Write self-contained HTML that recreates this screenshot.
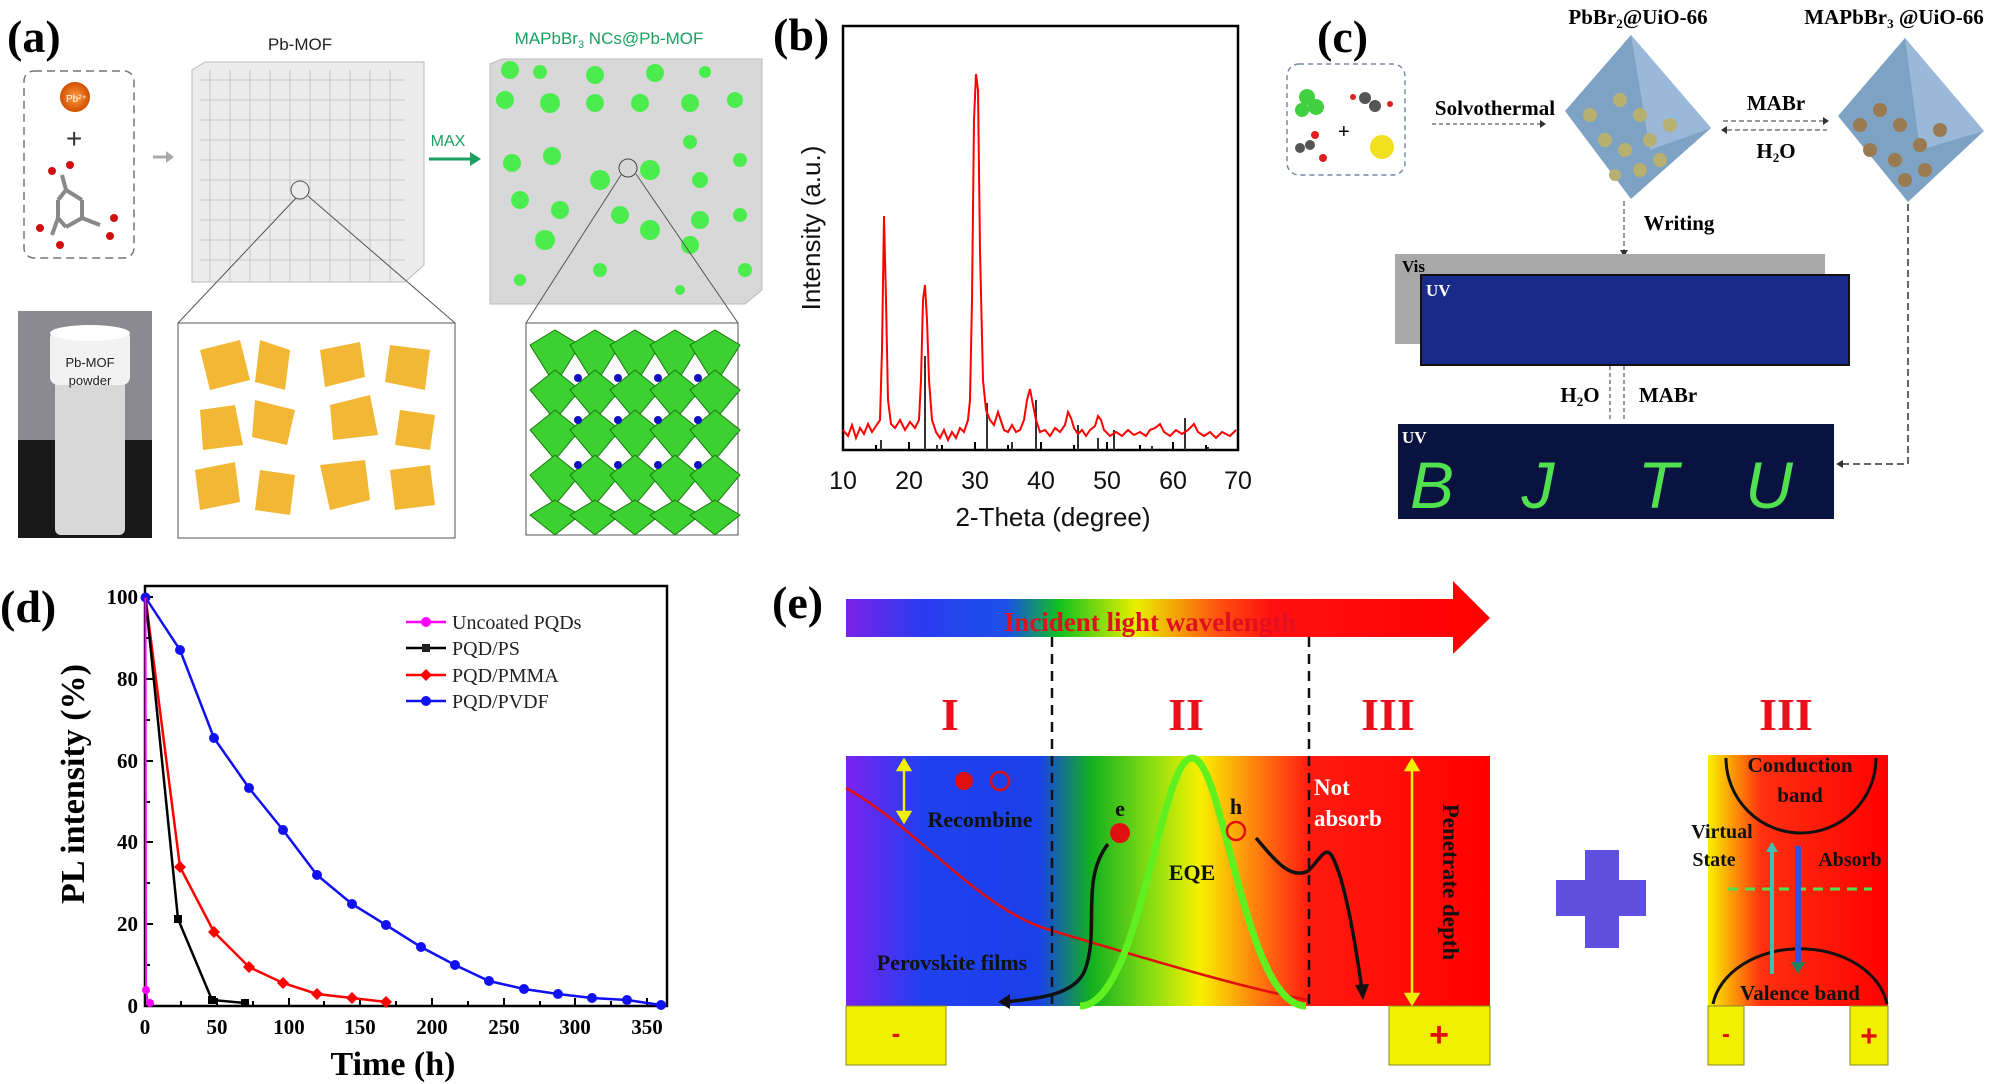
<!DOCTYPE html>
<html><head><meta charset="utf-8"><style>html,body{margin:0;padding:0;background:#fff}svg{display:block}</style></head><body>
<svg width="2000" height="1084" viewBox="0 0 2000 1084" xmlns="http://www.w3.org/2000/svg">
<defs>
<linearGradient id="arr" x1="846" x2="1490" y1="0" y2="0" gradientUnits="userSpaceOnUse">
<stop offset="0" stop-color="#7a22e6"/><stop offset="0.12" stop-color="#2a3cf0"/><stop offset="0.25" stop-color="#1a50e8"/><stop offset="0.33" stop-color="#10c020"/><stop offset="0.45" stop-color="#e8f000"/><stop offset="0.58" stop-color="#ff5010"/><stop offset="0.66" stop-color="#ff1010"/><stop offset="1" stop-color="#ff0000"/></linearGradient>
<linearGradient id="box" x1="846" x2="1490" y1="0" y2="0" gradientUnits="userSpaceOnUse">
<stop offset="0" stop-color="#7a22f0"/><stop offset="0.12" stop-color="#2040f0"/><stop offset="0.3" stop-color="#1a40e8"/><stop offset="0.38" stop-color="#10b020"/><stop offset="0.48" stop-color="#90e010"/><stop offset="0.55" stop-color="#f8f000"/><stop offset="0.65" stop-color="#ff7010"/><stop offset="0.72" stop-color="#ff1a10"/><stop offset="1" stop-color="#ff0000"/></linearGradient>
<linearGradient id="rbox" x1="1708" x2="1888" y1="0" y2="0" gradientUnits="userSpaceOnUse">
<stop offset="0" stop-color="#f8f000"/><stop offset="0.3" stop-color="#ff3010"/><stop offset="1" stop-color="#ff0000"/></linearGradient>
<radialGradient id="pb"><stop offset="0" stop-color="#ff9a40"/><stop offset="1" stop-color="#d05000"/></radialGradient>
</defs>

<!-- (a) -->
<text x="7" y="52" font-family="Liberation Serif" font-weight="bold" font-size="46">(a)</text>
<rect x="24" y="71" width="110" height="187" rx="10" fill="none" stroke="#777" stroke-width="1.5" stroke-dasharray="8,5"/>
<circle cx="75" cy="97" r="15" fill="url(#pb)"/><text x="66" y="102" font-family="Liberation Sans" font-size="10" fill="#fff">Pb²⁺</text>
<text x="66" y="148" font-family="Liberation Sans" font-size="28" fill="#333">+</text>
<g stroke="#888" stroke-width="4"><line x1="66" y1="190" x2="82" y2="200"/><line x1="82" y1="200" x2="82" y2="218"/><line x1="82" y1="218" x2="66" y2="227"/><line x1="66" y1="227" x2="58" y2="218"/><line x1="58" y1="218" x2="58" y2="200"/><line x1="58" y1="200" x2="66" y2="190"/><line x1="66" y1="190" x2="62" y2="175"/><line x1="82" y1="218" x2="100" y2="225"/><line x1="58" y1="218" x2="52" y2="235"/></g>
<g fill="#d01010"><circle cx="52" cy="171" r="4"/><circle cx="70" cy="165" r="4"/><circle cx="114" cy="218" r="4"/><circle cx="110" cy="236" r="4"/><circle cx="40" cy="228" r="4"/><circle cx="60" cy="245" r="4"/></g>
<path d="M153 157h16" stroke="#aaa" stroke-width="3"/><path d="M166 151l8 6-8 6z" fill="#aaa"/>
<text x="300" y="50" text-anchor="middle" font-family="Liberation Sans" font-size="17" fill="#222">Pb-MOF</text>
<g fill="#ececec" stroke="#bbb" stroke-width="1"><path d="M192 70L205 62L424 62L424 265L405 282L192 282Z"/></g>
<g stroke="#c4c4c4" stroke-width="1" opacity="0.9">
<path d="M200 80H405M200 100H405M200 120H405M200 140H405M200 160H405M200 180H405M200 200H405M200 220H405M200 240H405M200 260H405M210 70V282M230 70V282M250 70V282M270 70V282M290 70V282M310 70V282M330 70V282M350 70V282M370 70V282M390 70V282"/></g>
<circle cx="300" cy="190" r="9" fill="none" stroke="#555"/>
<path d="M296 198L178 323M308 196L455 323" stroke="#555" stroke-width="1"/>
<text x="609" y="44" text-anchor="middle" font-family="Liberation Sans" font-size="17" fill="#1aa060">MAPbBr<tspan font-size="11" dy="4">3</tspan><tspan dy="-4"> NCs@Pb-MOF</tspan></text>
<text x="448" y="146" text-anchor="middle" font-family="Liberation Sans" font-size="16" fill="#1aa060">MAX</text>
<path d="M429 159h44" stroke="#1aa060" stroke-width="3"/><path d="M470 152l11 7-11 7z" fill="#1aa060"/>
<path d="M490 64L502 59L762 59L762 290L745 304L490 304Z" fill="#d8d8d8" stroke="#bbb"/>
<g fill="#3cf040" opacity="0.9"><circle cx="510" cy="70" r="9"/><circle cx="540" cy="72" r="7"/><circle cx="595" cy="75" r="9"/><circle cx="655" cy="73" r="9"/><circle cx="705" cy="72" r="6"/><circle cx="505" cy="100" r="9"/><circle cx="550" cy="103" r="10"/><circle cx="595" cy="103" r="9"/><circle cx="640" cy="103" r="9"/><circle cx="690" cy="103" r="9"/><circle cx="735" cy="100" r="8"/><circle cx="512" cy="163" r="9"/><circle cx="552" cy="156" r="9"/><circle cx="600" cy="180" r="10"/><circle cx="650" cy="170" r="10"/><circle cx="690" cy="142" r="7"/><circle cx="700" cy="180" r="8"/><circle cx="740" cy="160" r="7"/><circle cx="520" cy="200" r="9"/><circle cx="560" cy="210" r="9"/><circle cx="620" cy="215" r="9"/><circle cx="700" cy="220" r="9"/><circle cx="740" cy="215" r="7"/><circle cx="545" cy="240" r="10"/><circle cx="650" cy="230" r="10"/><circle cx="690" cy="245" r="9"/><circle cx="600" cy="270" r="7"/><circle cx="745" cy="270" r="7"/><circle cx="680" cy="290" r="5"/><circle cx="520" cy="280" r="6"/></g>
<circle cx="628" cy="168" r="9" fill="none" stroke="#444"/>
<path d="M621 175L526 323M636 174L738 323" stroke="#555"/>
<rect x="18" y="311" width="134" height="227" fill="#8a8a90"/>
<rect x="18" y="440" width="134" height="98" fill="#181818"/>
<rect x="55" y="375" width="70" height="160" rx="6" fill="#d8d8d8"/>
<rect x="50" y="330" width="80" height="55" rx="8" fill="#f2f2f2"/>
<ellipse cx="90" cy="333" rx="40" ry="8" fill="#fff"/>
<text x="90" y="367" text-anchor="middle" font-family="Liberation Sans" font-size="13" fill="#222">Pb-MOF</text>
<text x="90" y="385" text-anchor="middle" font-family="Liberation Sans" font-size="13" fill="#222">powder</text>
<rect x="178" y="323" width="277" height="215" fill="#fff" stroke="#555"/>
<g fill="#f0b020" opacity="0.9"><path d="M200 350l40 -10 10 40 -40 10z"/><path d="M260 340l30 10 -5 40 -30-8z"/><path d="M320 350l40 -8 5 35 -40 10z"/><path d="M390 345l40 5 -5 40 -40 -8z"/><path d="M200 410l35 -5 8 40 -40 5z"/><path d="M255 400l40 10 -8 35 -35-8z"/><path d="M330 405l40 -10 8 40 -45 5z"/><path d="M400 410l35 5 -5 35 -35-5z"/><path d="M195 470l40 -8 5 40 -40 8z"/><path d="M260 470l35 5 -5 40 -35 -5z"/><path d="M320 465l45 -5 5 40 -40 10z"/><path d="M390 470l40 -5 5 40 -40 5z"/></g>
<rect x="526" y="323" width="212" height="212" fill="#fff" stroke="#555"/>
<g fill="#3cd030" stroke="#1a7a10" stroke-width="1">
<path d="M530 345l25-15 25 15-25 40z"/><path d="M570 345l25-15 25 15-25 40z"/><path d="M610 345l25-15 25 15-25 40z"/><path d="M650 345l25-15 25 15-25 40z"/><path d="M690 345l25-15 25 15-25 40z"/>
<path d="M530 390l25-20 25 20-25 30z"/><path d="M570 390l25-20 25 20-25 30z"/><path d="M610 390l25-20 25 20-25 30z"/><path d="M650 390l25-20 25 20-25 30z"/><path d="M690 390l25-20 25 20-25 30z"/>
<path d="M530 430l25-20 25 20-25 30z"/><path d="M570 430l25-20 25 20-25 30z"/><path d="M610 430l25-20 25 20-25 30z"/><path d="M650 430l25-20 25 20-25 30z"/><path d="M690 430l25-20 25 20-25 30z"/>
<path d="M530 475l25-20 25 20-25 30z"/><path d="M570 475l25-20 25 20-25 30z"/><path d="M610 475l25-20 25 20-25 30z"/><path d="M650 475l25-20 25 20-25 30z"/><path d="M690 475l25-20 25 20-25 30z"/>
<path d="M530 515l25-15 25 15-25 20z"/><path d="M570 515l25-15 25 15-25 20z"/><path d="M610 515l25-15 25 15-25 20z"/><path d="M650 515l25-15 25 15-25 20z"/><path d="M690 515l25-15 25 15-25 20z"/></g>
<g fill="#1010c0"><circle cx="578" cy="378" r="4"/><circle cx="618" cy="378" r="4"/><circle cx="658" cy="378" r="4"/><circle cx="698" cy="378" r="4"/><circle cx="578" cy="420" r="4"/><circle cx="618" cy="420" r="4"/><circle cx="658" cy="420" r="4"/><circle cx="698" cy="420" r="4"/><circle cx="578" cy="465" r="4"/><circle cx="618" cy="465" r="4"/><circle cx="658" cy="465" r="4"/><circle cx="698" cy="465" r="4"/></g>

<!-- (b) -->
<text x="773" y="50" font-family="Liberation Serif" font-weight="bold" font-size="46">(b)</text>
<rect x="843" y="26" width="395" height="424" fill="none" stroke="#000" stroke-width="2.5"/>
<g stroke="#000" stroke-width="2"><path d="M843 450v-8M876 450v-5M909 450v-8M942 450v-5M975 450v-8M1008 450v-5M1041 450v-8M1074 450v-5M1107 450v-8M1140 450v-5M1173 450v-8M1206 450v-5"/></g>
<g font-family="Liberation Sans" font-size="25" fill="#111" text-anchor="middle"><text x="843" y="489">10</text><text x="909" y="489">20</text><text x="975" y="489">30</text><text x="1041" y="489">40</text><text x="1107" y="489">50</text><text x="1173" y="489">60</text><text x="1238" y="489">70</text></g>
<text x="1053" y="526" text-anchor="middle" font-family="Liberation Sans" font-size="26" fill="#111">2-Theta (degree)</text>
<text transform="translate(820,228) rotate(-90)" text-anchor="middle" font-family="Liberation Sans" font-size="26" fill="#111">Intensity (a.u.)</text>
<g stroke="#333" stroke-width="2"><path d="M881 450V440M925 450V356M937 450V445M987 450V403M1012 450V442M1036 450V400M1078 450V425M1098 450V438M1114 450V430M1152 450V446M1185 450V418M1208 450V447"/></g>
<path d="M843 430 L848 436 L852 425 L856 438 L860 428 L864 434 L868 424 L872 432 L876 426 L880 420 L882 350 L884 216 L886 300 L888 400 L891 424 L895 428 L900 420 L905 430 L910 422 L915 428 L919 420 L921 380 L923 300 L925 285 L927 320 L929 380 L932 420 L936 432 L940 438 L944 430 L948 440 L952 432 L956 438 L960 428 L964 432 L968 420 L970 400 L972 300 L974 120 L976 74 L978 90 L980 250 L983 380 L986 410 L990 420 L994 425 L998 412 L1000 418 L1004 430 L1008 432 L1012 425 L1016 432 L1020 430 L1024 420 L1027 400 L1030 389 L1033 405 L1036 420 L1040 432 L1045 430 L1050 436 L1055 428 L1060 432 L1065 425 L1068 412 L1071 418 L1074 428 L1078 434 L1082 430 L1086 436 L1090 430 L1095 426 L1098 416 L1101 420 L1104 430 L1110 436 L1116 432 L1122 436 L1128 430 L1134 435 L1140 432 L1146 436 L1150 430 L1155 428 L1160 424 L1164 432 L1170 436 L1176 430 L1182 434 L1188 430 L1194 424 L1198 432 L1204 436 L1210 432 L1216 438 L1222 432 L1230 436 L1236 430" fill="none" stroke="#f00" stroke-width="2"/>

<!-- (c) -->
<text x="1317" y="52" font-family="Liberation Serif" font-weight="bold" font-size="46">(c)</text>
<rect x="1287" y="64" width="118" height="111" rx="12" fill="none" stroke="#7a8aa0" stroke-width="1.5" stroke-dasharray="5,4"/>
<g fill="#40d040"><circle cx="1307" cy="97" r="8"/><circle cx="1316" cy="107" r="8"/><circle cx="1302" cy="110" r="7"/></g>
<g fill="#555"><circle cx="1365" cy="98" r="6"/><circle cx="1375" cy="106" r="6"/><circle cx="1300" cy="148" r="5"/><circle cx="1310" cy="145" r="5"/></g>
<g fill="#e02020"><circle cx="1353" cy="97" r="3"/><circle cx="1390" cy="104" r="3"/><circle cx="1315" cy="135" r="4"/><circle cx="1323" cy="158" r="4"/></g>
<text x="1338" y="138" font-family="Liberation Sans" font-size="20">+</text>
<circle cx="1382" cy="147" r="12" fill="#f0e020"/>
<text x="1495" y="115" text-anchor="middle" font-family="Liberation Serif" font-weight="bold" font-size="21">Solvothermal</text>
<path d="M1432 124h108" stroke="#333" stroke-dasharray="4,3"/><path d="M1540 120l6 4-6 4z" fill="#333"/>
<text x="1638" y="24" text-anchor="middle" font-family="Liberation Serif" font-weight="bold" font-size="21">PbBr<tspan font-size="13" dy="4">2</tspan><tspan dy="-4">@UiO-66</tspan></text>
<text x="1894" y="24" text-anchor="middle" font-family="Liberation Serif" font-weight="bold" font-size="21">MAPbBr<tspan font-size="13" dy="4">3</tspan><tspan dy="-4"> @UiO-66</tspan></text>
<path d="M1631 35L1565 111L1631 199L1711 128Z" fill="#7da2c4"/><path d="M1631 35L1711 128L1650 150Z" fill="#9ab8d8"/>
<g fill="#b8b070"><circle cx="1620" cy="100" r="7"/><circle cx="1640" cy="115" r="7"/><circle cx="1605" cy="140" r="7"/><circle cx="1625" cy="150" r="7"/><circle cx="1650" cy="140" r="7"/><circle cx="1670" cy="125" r="7"/><circle cx="1640" cy="170" r="7"/><circle cx="1660" cy="160" r="7"/><circle cx="1590" cy="115" r="7"/><circle cx="1615" cy="175" r="6"/></g>
<path d="M1723 121h100M1727 130h100" stroke="#333" stroke-dasharray="5,3"/>
<path d="M1823 117l6 4-6 4zM1727 126l-6 4 6 4z" fill="#333"/>
<text x="1776" y="110" text-anchor="middle" font-family="Liberation Serif" font-weight="bold" font-size="21">MABr</text>
<text x="1776" y="158" text-anchor="middle" font-family="Liberation Serif" font-weight="bold" font-size="21">H<tspan font-size="13" dy="4">2</tspan><tspan dy="-4">O</tspan></text>
<path d="M1905 38L1838 116L1908 202L1984 131Z" fill="#7da2c4"/><path d="M1905 38L1984 131L1920 150Z" fill="#9ab8d8"/>
<g fill="#9a7a50"><circle cx="1880" cy="110" r="7"/><circle cx="1900" cy="125" r="7"/><circle cx="1870" cy="150" r="7"/><circle cx="1895" cy="160" r="7"/><circle cx="1920" cy="145" r="7"/><circle cx="1940" cy="130" r="7"/><circle cx="1905" cy="180" r="7"/><circle cx="1925" cy="170" r="7"/><circle cx="1860" cy="125" r="7"/></g>
<path d="M1624 201v52" stroke="#333" stroke-dasharray="5,3"/><path d="M1620 250l4 7 4-7z" fill="#333"/>
<text x="1679" y="230" text-anchor="middle" font-family="Liberation Serif" font-weight="bold" font-size="21">Writing</text>
<rect x="1395" y="254" width="430" height="90" fill="#a8a8a8"/>
<text x="1402" y="272" font-family="Liberation Serif" font-weight="bold" font-size="17">Vis</text>
<rect x="1421" y="275" width="428" height="90" fill="#1a2a8a" stroke="#111" stroke-width="2"/>
<text x="1426" y="296" font-family="Liberation Serif" font-weight="bold" font-size="17" fill="#fff">UV</text>
<path d="M1610 366v55M1624 366v55" stroke="#333" stroke-dasharray="4,3"/>
<text x="1580" y="402" text-anchor="middle" font-family="Liberation Serif" font-weight="bold" font-size="21">H<tspan font-size="13" dy="4">2</tspan><tspan dy="-4">O</tspan></text>
<text x="1668" y="402" text-anchor="middle" font-family="Liberation Serif" font-weight="bold" font-size="21">MABr</text>
<rect x="1398" y="424" width="436" height="95" fill="#0a1240"/>
<text x="1402" y="443" font-family="Liberation Serif" font-weight="bold" font-size="17" fill="#fff">UV</text>
<g font-family="Liberation Sans" font-size="66" fill="#50e050" font-style="italic" text-anchor="middle"><text x="1432" y="508">B</text><text x="1538" y="508">J</text><text x="1658" y="508">T</text><text x="1769" y="508">U</text></g>
<path d="M1908 204v260h-68" fill="none" stroke="#333" stroke-width="1.5" stroke-dasharray="7,4"/><path d="M1843 460l-7 4 7 4z" fill="#333"/>

<!-- (d) -->
<text x="0" y="622" font-family="Liberation Serif" font-weight="bold" font-size="46">(d)</text>
<rect x="145" y="586" width="522" height="420" fill="none" stroke="#000" stroke-width="2.5"/>
<g stroke="#000" stroke-width="2"><path d="M145 597h8M145 679h8M145 761h8M145 842h8M145 924h8M145 638h5M145 720h5M145 802h5M145 883h5M145 965h5"/>
<path d="M145 1006v-8M217 1006v-8M289 1006v-8M360 1006v-8M432 1006v-8M504 1006v-8M575 1006v-8M647 1006v-8M181 1006v-5M253 1006v-5M324 1006v-5M396 1006v-5M468 1006v-5M540 1006v-5M611 1006v-5"/></g>
<g font-family="Liberation Serif" font-weight="bold" font-size="21" text-anchor="end"><text x="138" y="604">100</text><text x="138" y="686">80</text><text x="138" y="768">60</text><text x="138" y="849">40</text><text x="138" y="931">20</text><text x="138" y="1013">0</text></g>
<g font-family="Liberation Serif" font-weight="bold" font-size="21" text-anchor="middle"><text x="145" y="1034">0</text><text x="217" y="1034">50</text><text x="289" y="1034">100</text><text x="360" y="1034">150</text><text x="432" y="1034">200</text><text x="504" y="1034">250</text><text x="575" y="1034">300</text><text x="647" y="1034">350</text></g>
<text x="393" y="1075" text-anchor="middle" font-family="Liberation Serif" font-weight="bold" font-size="34">Time (h)</text>
<text transform="translate(84,784) rotate(-90)" text-anchor="middle" font-family="Liberation Serif" font-weight="bold" font-size="34">PL intensity (%)</text>
<polyline points="145.5,597.5 180,650 214,738 249,788 283,830 317,875 352,904 386,925 421,947 455,965 489,981 524,989 558,994 592,998 627,1000 661,1005" fill="none" stroke="#1010f0" stroke-width="2.5"/>
<g fill="#1010f0"><circle cx="145.5" cy="597.5" r="5"/><circle cx="180" cy="650" r="5"/><circle cx="214" cy="738" r="5"/><circle cx="249" cy="788" r="5"/><circle cx="283" cy="830" r="5"/><circle cx="317" cy="875" r="5"/><circle cx="352" cy="904" r="5"/><circle cx="386" cy="925" r="5"/><circle cx="421" cy="947" r="5"/><circle cx="455" cy="965" r="5"/><circle cx="489" cy="981" r="5"/><circle cx="524" cy="989" r="5"/><circle cx="558" cy="994" r="5"/><circle cx="592" cy="998" r="5"/><circle cx="627" cy="1000" r="5"/><circle cx="661" cy="1005" r="5"/></g>
<polyline points="145.5,597.5 180,867 214,932 249,967 283,983 317,994 352,998 386,1002" fill="none" stroke="#f00" stroke-width="2.5"/>
<g fill="#f00"><path d="M180 861l6 6-6 6-6-6z"/><path d="M214 926l6 6-6 6-6-6z"/><path d="M249 961l6 6-6 6-6-6z"/><path d="M283 977l6 6-6 6-6-6z"/><path d="M317 988l6 6-6 6-6-6z"/><path d="M352 992l6 6-6 6-6-6z"/><path d="M386 996l6 6-6 6-6-6z"/></g>
<polyline points="145.5,597.5 178,919 212,1000 245,1003" fill="none" stroke="#000" stroke-width="2.5"/>
<g fill="#000"><rect x="174" y="915" width="8" height="8"/><rect x="208" y="996" width="8" height="8"/><rect x="241" y="999" width="8" height="8"/></g>
<polyline points="145.5,597.5 146,990 148,1003 151,1004" fill="none" stroke="#f0f" stroke-width="2"/>
<g fill="#f0f"><circle cx="146" cy="990" r="4"/><circle cx="150" cy="1003" r="4"/></g>
<g font-family="Liberation Serif" font-size="20" fill="#222">
<path d="M406 622h40" stroke="#f0f" stroke-width="2.5"/><circle cx="426" cy="622" r="5" fill="#f0f"/><text x="452" y="629">Uncoated PQDs</text>
<path d="M406 648h40" stroke="#000" stroke-width="2.5"/><rect x="422" y="644" width="8" height="8"/><text x="452" y="655">PQD/PS</text>
<path d="M406 675h40" stroke="#f00" stroke-width="2.5"/><path d="M426 669l6 6-6 6-6-6z" fill="#f00"/><text x="452" y="682">PQD/PMMA</text>
<path d="M406 701h40" stroke="#1010f0" stroke-width="2.5"/><circle cx="426" cy="701" r="5" fill="#1010f0"/><text x="452" y="708">PQD/PVDF</text></g>

<!-- (e) -->
<text x="772" y="618" font-family="Liberation Serif" font-weight="bold" font-size="46">(e)</text>
<path d="M846 599H1453V581L1490 618L1453 654V637H846Z" fill="url(#arr)"/>
<text x="1150" y="631" text-anchor="middle" font-family="Liberation Serif" font-weight="bold" font-size="27" fill="#e01020">Incident light wavelength</text>
<rect x="846" y="756" width="644" height="250" fill="url(#box)"/>
<path d="M846 788 C920 830 980 910 1050 930 C1150 960 1250 990 1309 1000" fill="none" stroke="#e01010" stroke-width="2.5"/>
<path d="M1052 637V1004M1309 637V1004" stroke="#111" stroke-width="2.5" stroke-dasharray="10,7"/>
<g font-family="Liberation Serif" font-weight="bold" font-size="46" fill="#e8101a" text-anchor="middle"><text x="950" y="730">I</text><text x="1186" y="730">II</text><text x="1388" y="730">III</text><text x="1786" y="730">III</text></g>
<path d="M1080 1006 C1140 1006 1160 758 1192 758 C1224 758 1244 1006 1306 1006" fill="none" stroke="#60f020" stroke-width="7"/>
<g stroke="#f0f000" stroke-width="2.5" fill="#f0f000"><path d="M904 762V818M1412 762V1002"/><path d="M898 770l6-10 6 10zM898 812l6 10 6-10zM1406 770l6-10 6 10zM1406 994l6 10 6-10z"/></g>
<circle cx="964" cy="781" r="9" fill="#e01010"/><circle cx="1000" cy="781" r="9" fill="none" stroke="#e01010" stroke-width="2.5"/>
<g font-family="Liberation Serif" font-weight="bold" font-size="22" fill="#111"><text x="980" y="827" text-anchor="middle">Recombine</text><text x="952" y="970" text-anchor="middle">Perovskite films</text><text x="1120" y="816" text-anchor="middle">e</text><text x="1236" y="814" text-anchor="middle">h</text><text x="1192" y="880" text-anchor="middle">EQE</text></g>
<circle cx="1120" cy="833" r="10" fill="#e01010"/><circle cx="1236" cy="831" r="9" fill="none" stroke="#e01010" stroke-width="2.5"/>
<path d="M1108 844C1080 880 1100 930 1085 970C1075 995 1040 998 1005 1002" fill="none" stroke="#111" stroke-width="3.5"/><path d="M1010 994l-12 8 12 7z" fill="#111"/>
<path d="M1256 838C1275 860 1290 880 1308 871C1320 860 1325 845 1332 856C1345 880 1355 940 1362 990" fill="none" stroke="#111" stroke-width="3.5"/><path d="M1355 985l8 15 6-16z" fill="#111"/>
<g font-family="Liberation Serif" font-weight="bold" font-size="23" fill="#fff"><text x="1314" y="795">Not</text><text x="1314" y="826">absorb</text></g>
<text transform="translate(1443,882) rotate(90)" text-anchor="middle" font-family="Liberation Serif" font-weight="bold" font-size="23" fill="#111">Penetrate depth</text>
<rect x="846" y="1006" width="100" height="59" fill="#f0f000" stroke="#8a8a20"/><text x="896" y="1042" text-anchor="middle" font-family="Liberation Sans" font-weight="bold" font-size="26" fill="#e01010">-</text>
<rect x="1389" y="1006" width="101" height="59" fill="#f0f000" stroke="#8a8a20"/><text x="1439" y="1046" text-anchor="middle" font-family="Liberation Sans" font-weight="bold" font-size="34" fill="#e01010">+</text>
<path d="M1585 850h34v30h27v36h-27v32h-34v-32h-29v-36h29z" fill="#6050e0"/>
<rect x="1708" y="755" width="180" height="251" fill="url(#rbox)"/>
<path d="M1726 758A75 75 0 0 0 1876 758" fill="none" stroke="#111" stroke-width="3"/>
<path d="M1713 1004A88 65 0 0 1 1887 1004" fill="none" stroke="#111" stroke-width="3"/>
<g font-family="Liberation Serif" font-weight="bold" font-size="21" fill="#111" text-anchor="middle"><text x="1800" y="772">Conduction</text><text x="1800" y="802">band</text><text x="1800" y="1000">Valence band</text><text x="1722" y="838" font-size="20">Virtual</text><text x="1714" y="866" font-size="20">State</text><text x="1850" y="866" font-size="20">Absorb</text></g>
<path d="M1728 889H1872" stroke="#50e050" stroke-width="3" stroke-dasharray="10,7"/>
<path d="M1772 974V844" stroke="#40c0b0" stroke-width="4"/><path d="M1766 852l6-10 6 10z" fill="#40c0b0"/>
<path d="M1798 846V965" stroke="#3050e0" stroke-width="6"/><path d="M1791 962l7 12 7-12z" fill="#208060"/>
<rect x="1708" y="1006" width="36" height="59" fill="#f0f000" stroke="#8a8a20"/><text x="1726" y="1042" text-anchor="middle" font-family="Liberation Sans" font-weight="bold" font-size="24" fill="#e01010">-</text>
<rect x="1850" y="1006" width="38" height="59" fill="#f0f000" stroke="#8a8a20"/><text x="1869" y="1046" text-anchor="middle" font-family="Liberation Sans" font-weight="bold" font-size="30" fill="#e01010">+</text>
</svg>
</body></html>
